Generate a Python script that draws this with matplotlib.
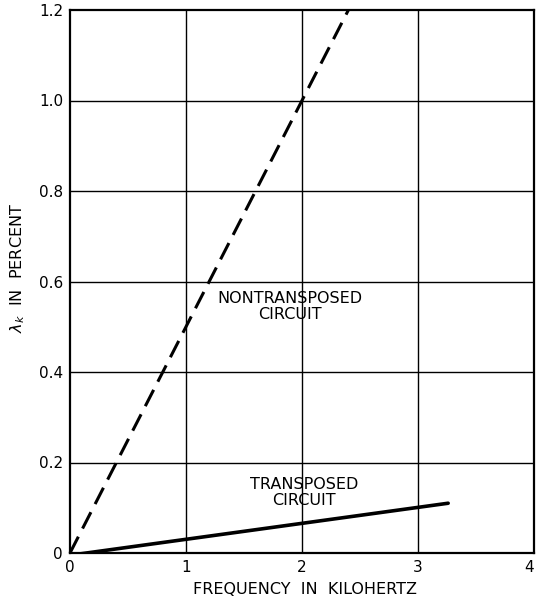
import matplotlib
matplotlib.use("Agg")
import matplotlib.pyplot as plt

# Data
nontransposed_x = [0.0, 2.4]
nontransposed_y = [0.0, 1.2]
transposed_x = [0.0, 3.26]
transposed_y = [-0.005, 0.11]

x_ticks = [0, 1, 2, 3, 4]
x_tick_labels = ["0", "1", "2", "3", "4"]
y_ticks = [0, 0.2, 0.4, 0.6, 0.8, 1.0, 1.2]
y_tick_labels = ["0", "0.2", "0.4", "0.6", "0.8", "1.0", "1.2"]

fig = plt.figure(figsize=(5.36, 6.02), dpi=100)
ax = fig.add_axes([70/536, 1 - 553/602, 464/536, (553 - 10)/602])

ax.set_xlim(0, 4)
ax.set_ylim(0, 1.2)

ax.plot(nontransposed_x, nontransposed_y, color="black", lw=2.2,
        dashes=(6, 3), solid_capstyle="butt", dash_capstyle="butt", clip_on=False)
ax.plot(transposed_x, transposed_y, color="black", lw=2.6, solid_capstyle="round")

for xv in [1, 2, 3]:
    ax.axvline(xv, color="black", lw=1.0, zorder=0)
for yv in [0.2, 0.4, 0.6, 0.8, 1.0]:
    ax.axhline(yv, color="black", lw=1.0, zorder=0)

for s in ax.spines.values():
    s.set_linewidth(1.6)

ax.set_xticks(x_ticks)
ax.set_xticklabels(x_tick_labels)
ax.set_yticks(y_ticks)
ax.set_yticklabels(y_tick_labels)
ax.tick_params(length=0, labelsize=11, pad=5)
ax.get_xticklabels()[-1].set_horizontalalignment("right")

fig.text(305/536, 1 - 589/602, "FREQUENCY  IN  KILOHERTZ", fontsize=11.5,
         ha="center", va="center")
fig.text(18/536, 1 - 268/602, r"$\lambda_k$  IN  PERCENT", fontsize=11.5,
         ha="center", va="center", rotation=90)

ax.text(1.9, 0.545, "NONTRANSPOSED\nCIRCUIT", ha="center", va="center",
        fontsize=11.5, linespacing=1.1)
ax.text(2.02, 0.133, "TRANSPOSED\nCIRCUIT", ha="center", va="center",
        fontsize=11.5, linespacing=1.1)

fig.savefig("out.png", dpi=100)
